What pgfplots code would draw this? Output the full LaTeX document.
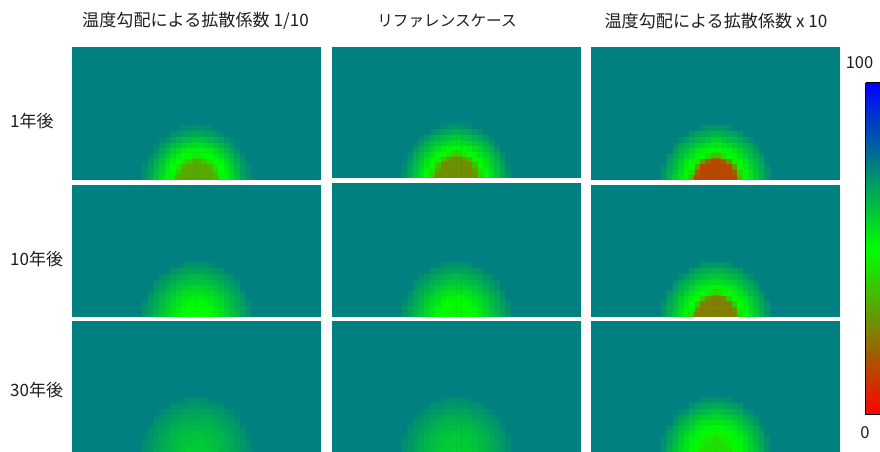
\documentclass[border=0pt]{standalone}
\usepackage{fontspec}
\setmainfont{Noto Sans CJK JP}
\usepackage{pgfplots}
\usepackage{pgfplotstable}
\pgfplotsset{compat=1.18}
\definecolor{bgteal}{RGB}{0,128,128}
\definecolor{txt}{RGB}{30,30,30}
% half of each panel: x from the centre outwards, y from the bottom edge; one column per panel
\pgfplotstableread{
x y Aa Ab Ac Ba Bb Bc Ca Cb Cc
0.5 0.5 33 28 14 50 48 25 60 59 44
1.5 0.5 33 28 14 50 48 25 60 60 44
2.5 0.5 33 28 14 51 49 25 61 60 44
3.5 0.5 36 28 14 53 51 25 62 61 48
4.5 0.5 47 42 38 56 55 44 64 63 51
5.5 0.5 52 51 51 58 58 52 65 64 55
6.5 0.5 57 56 55 62 61 56 67 66 58
7.5 0.5 62 61 60 64 64 61 68 68 62
8.5 0.5 67 66 65 68 68 65 70 70 66
9.5 0.5 71 71 70 71 71 70 72 72 71
0.5 1.5 33 28 14 50 48 25 60 60 44
1.5 1.5 33 28 14 50 48 25 61 60 44
2.5 1.5 33 28 14 51 50 25 62 61 46
3.5 1.5 40 31 18 54 52 28 63 62 49
4.5 1.5 49 45 43 56 55 47 64 63 52
5.5 1.5 53 52 52 59 58 53 65 65 55
6.5 1.5 58 57 56 62 62 57 67 66 59
7.5 1.5 63 62 61 65 65 61 68 68 63
8.5 1.5 68 67 66 68 68 66 70 70 67
9.5 1.5 72 72 70 71 71 70 72 72 71
0.5 2.5 33 28 14 51 49 25 61 60 44
1.5 2.5 33 28 14 51 50 25 62 61 46
2.5 2.5 36 28 14 53 51 25 62 61 48
3.5 2.5 46 38 32 55 54 40 63 62 51
4.5 2.5 50 49 49 57 56 50 64 63 53
5.5 2.5 54 54 53 60 59 54 66 65 56
6.5 2.5 60 59 58 63 63 58 67 67 60
7.5 2.5 64 63 63 66 66 63 69 69 64
8.5 2.5 69 68 67 69 69 67 71 71 68
9.5 2.5 72 73 72 72 72 71 73 73 72
0.5 3.5 36 28 14 53 51 25 62 61 48
1.5 3.5 40 31 18 54 52 28 63 62 49
2.5 3.5 46 38 32 55 54 40 63 62 51
3.5 3.5 50 48 47 57 56 49 64 63 53
4.5 3.5 53 52 52 59 58 53 65 65 55
5.5 3.5 57 56 55 62 61 56 67 66 58
6.5 3.5 62 61 60 64 64 60 68 68 62
7.5 3.5 66 65 65 67 67 64 70 70 66
8.5 3.5 70 70 68 70 70 68 71 71 69
9.5 3.5 75 75 75 75 75 75 75 75 75
0.5 4.5 47 42 38 56 55 44 64 63 51
1.5 4.5 49 45 43 56 55 47 64 63 52
2.5 4.5 50 49 49 57 56 50 64 63 53
3.5 4.5 53 52 52 59 58 53 65 65 55
4.5 4.5 56 56 55 61 61 56 66 66 58
5.5 4.5 60 59 58 63 63 59 68 67 61
6.5 4.5 64 63 63 66 66 63 69 69 64
7.5 4.5 68 67 66 68 68 66 70 70 67
8.5 4.5 72 72 70 71 71 70 72 72 71
9.5 4.5 75 75 75 75 75 75 75 75 75
0.5 5.5 52 51 51 58 58 52 65 64 55
1.5 5.5 53 52 52 59 58 53 65 65 55
2.5 5.5 54 54 53 60 59 54 66 65 56
3.5 5.5 57 56 55 62 61 56 67 66 58
4.5 5.5 60 59 58 63 63 59 68 67 61
5.5 5.5 64 63 63 66 66 63 69 69 64
6.5 5.5 67 66 65 68 68 65 70 70 66
7.5 5.5 71 70 69 70 70 69 71 71 70
8.5 5.5 75 75 75 75 75 75 75 75 75
9.5 5.5 75 75 75 75 75 75 75 75 75
0.5 6.5 57 56 55 62 61 56 67 66 58
1.5 6.5 58 57 56 62 62 57 67 66 59
2.5 6.5 60 59 58 63 63 58 67 67 60
3.5 6.5 62 61 60 64 64 60 68 68 62
4.5 6.5 64 63 63 66 66 63 69 69 64
5.5 6.5 67 66 65 68 68 65 70 70 66
6.5 6.5 70 70 68 70 70 68 71 71 69
7.5 6.5 73 73 72 72 72 72 73 73 72
8.5 6.5 75 75 75 75 75 75 75 75 75
9.5 6.5 75 75 75 75 75 75 75 75 75
0.5 7.5 62 61 60 64 64 61 68 68 62
1.5 7.5 63 62 61 65 65 61 68 68 63
2.5 7.5 64 63 63 66 66 63 69 69 64
3.5 7.5 66 65 65 67 67 64 70 70 66
4.5 7.5 68 67 66 68 68 66 70 70 67
5.5 7.5 71 70 69 70 70 69 71 71 70
6.5 7.5 73 73 72 72 72 72 73 73 72
7.5 7.5 75 75 75 75 75 75 75 75 75
8.5 7.5 75 75 75 75 75 75 75 75 75
9.5 7.5 75 75 75 75 75 75 75 75 75
0.5 8.5 67 66 65 68 68 65 70 70 66
1.5 8.5 68 67 66 68 68 66 70 70 67
2.5 8.5 69 68 67 69 69 67 71 71 68
3.5 8.5 70 70 68 70 70 68 71 71 69
4.5 8.5 72 72 70 71 71 70 72 72 71
5.5 8.5 75 75 75 75 75 75 75 75 75
6.5 8.5 75 75 75 75 75 75 75 75 75
7.5 8.5 75 75 75 75 75 75 75 75 75
8.5 8.5 75 75 75 75 75 75 75 75 75
9.5 8.5 75 75 75 75 75 75 75 75 75
0.5 9.5 71 71 70 71 71 70 72 72 71
1.5 9.5 72 72 70 71 71 70 72 72 71
2.5 9.5 72 73 72 72 72 71 73 73 72
3.5 9.5 75 75 75 75 75 75 75 75 75
4.5 9.5 75 75 75 75 75 75 75 75 75
5.5 9.5 75 75 75 75 75 75 75 75 75
6.5 9.5 75 75 75 75 75 75 75 75 75
7.5 9.5 75 75 75 75 75 75 75 75 75
8.5 9.5 75 75 75 75 75 75 75 75 75
9.5 9.5 75 75 75 75 75 75 75 75 75
}\grid
\pgfplotsset{
  heat/.style={
    colormap={rgb3}{rgb255=(255,0,0) rgb255=(0,255,0) rgb255=(0,0,255)},
    point meta min=0, point meta max=100},
  panel/.style={heat, scale only axis, anchor=south west,
    axis line style={draw=none}, xtick=\empty, ytick=\empty,
    axis background/.style={fill=bgteal}, clip=true},
}
\newcommand{\panel}[5]{%
  \pgfmathsetmacro{\ym}{#4/5.45}%
  \pgfmathsetmacro{\xm}{#3/2/5.45}%
  \begin{axis}[panel, at={(#1pt,#2pt)}, width=#3pt, height=#4pt, xmin=-\xm, xmax=\xm, ymin=0, ymax=\ym]
    \addplot[matrix plot*, mesh/cols=10, point meta=explicit]
      table[x=x, y=y, meta=#5] {\grid};
    \addplot[matrix plot*, mesh/cols=10, point meta=explicit]
      table[x expr={-\thisrow{x}}, y=y, meta=#5] {\grid};
  \end{axis}}
\newcommand{\lab}[5][center]{\node[anchor=#1, inner sep=0pt, text=txt, font=\fontsize{#4}{20}\selectfont] at (#2pt,#3pt) {#5};}
\begin{document}
\begin{tikzpicture}[x=1pt,y=1pt]
\path[use as bounding box] (0,0) rectangle (880,452);
\panel{72}{272}{249}{133}{Aa}
\panel{332}{274}{248.5}{131}{Ab}
\panel{591}{272}{249}{133}{Ac}
\panel{72}{135}{249}{132}{Ba}
\panel{332}{135}{248.5}{133.5}{Bb}
\panel{591}{135}{249}{132}{Bc}
\panel{72}{0}{249}{130.5}{Ca}
\panel{332}{0}{248.5}{130.5}{Cb}
\panel{591}{0}{249}{130.5}{Cc}
\begin{axis}[heat, scale only axis, anchor=south west, at={(865.5pt,37pt)}, width=18pt, height=332pt,
   xmin=0, xmax=1, ymin=0, ymax=100, xtick=\empty, ytick=\empty, view={0}{90},
   axis on top, axis line style={black, line width=1pt}]
  \addplot3[surf, shader=interp, mesh/rows=5, point meta=\thisrow{y}] table {
x y z
0 0 0
1 0 0
0 25 0
1 25 0
0 50 0
1 50 0
0 75 0
1 75 0
0 100 0
1 100 0
};
\end{axis}
\lab{195.5}{431}{17.1}{温度勾配による拡散係数 1/10}
\lab{447}{431}{15.6}{リファレンスケース}
\lab{716}{431}{17.1}{温度勾配による拡散係数 x 10}
\lab[west]{10}{331}{17}{1年後}
\lab[west]{10}{193}{17}{10年後}
\lab[west]{10}{62}{17}{30年後}
\lab{859.5}{389}{16.5}{100}
\lab{865}{19.5}{16.5}{0}
\end{tikzpicture}
\end{document}
